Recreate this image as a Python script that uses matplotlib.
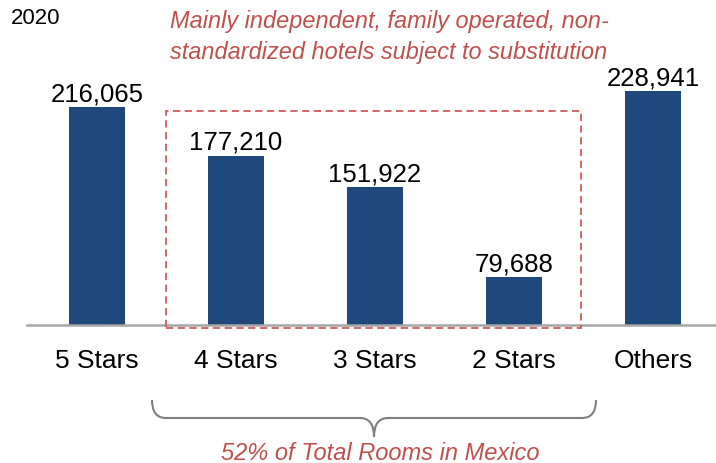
import matplotlib
matplotlib.use("Agg")
import matplotlib.pyplot as plt
from matplotlib.patches import Rectangle, PathPatch
from matplotlib.path import Path

plt.rcParams['font.family'] = ['Liberation Sans', 'DejaVu Sans']

categories = ["5 Stars", "4 Stars", "3 Stars", "2 Stars", "Others"]
values = [216065, 177210, 151922, 79688, 228941]
value_labels = ["216,065", "177,210", "151,922", "79,688", "228,941"]
year_label = "2020"
top_note = "Mainly independent, family operated, non-\nstandardized hotels subject to substitution"
bottom_note = "52% of Total Rooms in Mexico"

W, H = 716, 463
fig = plt.figure(figsize=(W / 100, H / 100), dpi=100)

def fx(px):
    return px / W

def fy(py):
    return 1 - py / H

bar_color = "#1F497D"
red = "#C0504D"

ax = fig.add_axes([fx(27), fy(325), 1 - fx(27), 1 - fy(325)])
x = list(range(len(categories)))
ax.bar(x, values, width=0.4, color=bar_color, zorder=2)
ax.set_xlim(-0.504, 4.453)
ax.set_ylim(41400, 302100)
for s in ["top", "right", "left"]:
    ax.spines[s].set_visible(False)
ax.spines["bottom"].set_color("#A6A6A6")
ax.spines["bottom"].set_linewidth(1.8)
ax.set_yticks([])
ax.set_xticks(x)
ax.set_xticklabels(categories, fontsize=19)
ax.tick_params(axis="x", length=0, pad=17)

for xi, v, lab in zip(x, values, value_labels):
    ax.annotate(lab, (xi, v), xytext=(0, 0.5), textcoords="offset points",
                ha="center", va="bottom", fontsize=18.5, color="black", zorder=3)

# dashed box
box = Rectangle((fx(166), fy(328)), fx(581) - fx(166), fy(111) - fy(328),
                transform=fig.transFigure, fill=False, edgecolor="#D05A5A",
                linestyle=(0, (4, 2.5)), linewidth=1.3)
fig.patches.append(box)

fig.text(fx(11), fy(19), year_label, fontsize=16, ha="left", va="center")
fig.text(fx(389), fy(37), top_note, fontsize=16.9, style="italic", color=red,
         ha="center", va="center", linespacing=1.4)
fig.text(fx(380), fy(453), bottom_note, fontsize=17, style="italic", color=red,
         ha="center", va="center")

# brace
L, R, M = 152, 596, 374
yt, yh, ytip = 400, 418, 437
verts = [(fx(a), fy(b)) for a, b in [
    (L, yt), (L, yh), (L + 14, yh),
    (M - 14, yh), (M, yh), (M, ytip),
    (M, yh), (M + 14, yh),
    (R - 14, yh), (R, yh), (R, yt)]]
codes = [Path.MOVETO, Path.CURVE3, Path.CURVE3,
         Path.LINETO, Path.CURVE3, Path.CURVE3,
         Path.CURVE3, Path.CURVE3,
         Path.LINETO, Path.CURVE3, Path.CURVE3]
brace = PathPatch(Path(verts, codes), transform=fig.transFigure, fill=False,
                  edgecolor="#7F7F7F", linewidth=1.5)
fig.patches.append(brace)

fig.savefig("out.png", dpi=100)
